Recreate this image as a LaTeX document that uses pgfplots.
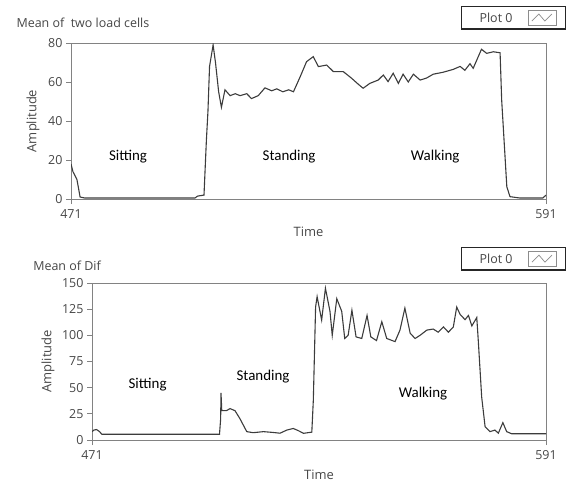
\documentclass[border=0pt]{standalone}
\usepackage{fontspec}
\setmainfont{Open Sans}
\newfontfamily\annfont{Carlito}
\usepackage{pgfplots}
\pgfplotsset{compat=1.18}

\definecolor{frame}{RGB}{130,130,130}
\definecolor{trace}{RGB}{60,60,60}
\definecolor{txt}{RGB}{70,70,70}

\pgfplotstableread{
t v
471 18
471.5 14
472.5 10
473.3 1
474.5 0.5
490 0.5
502.3 0.5
503 1.5
504.6 2
505.2 30
505.6 45
506 68
506.9 79
507.5 70
508.3 55
509 47
509.9 56
511.2 53
512.5 54
513.7 53
515.4 54
516.6 51.5
518.3 53
520 57
521.7 55.5
523 56.5
524.5 55
526 56
527.2 55
528.9 62.7
530.5 70.4
532.2 73
533.5 67.9
535.6 68.7
537.3 65.3
539.8 65.3
541.9 61.9
543.5 59
544.8 56.8
546.5 59.3
548.6 61
549.9 63.6
551.1 60.2
552.4 64.5
553.7 59.3
554.9 64
556.2 60
557.5 64
559.2 61
560.8 62
562.5 64
565 65
567.6 66.5
569.3 68
570.5 66
571.8 69.4
572.6 67
574.7 76.8
576 74.7
577.7 75.5
579.4 75
579.8 50.8
581.1 6.3
581.9 1.2
584.4 0.5
590.2 0.5
591 2
}\loadcells

\pgfplotstableread{
t v
471 8
471.5 9.5
472.2 10
473 8
473.6 5.5
504.7 5.5
505 20
505.1 45
505.3 28
506.5 28
507.5 30
508.8 28
510.1 20.4
511.9 8
513.6 7
515 7.5
516.3 8
518.9 7.2
520.7 6.5
522.5 9.5
524.2 11
525.5 9
526.9 6.4
529.1 7.5
529.5 38
530.1 127
530.5 137
531.7 114.6
532.7 145
533.9 123
534.5 100
535.7 135
537 123
537.8 97
538.7 100
539.7 124
540.8 98.5
542.3 97
543.7 119
544.7 98.5
546.2 95
547.6 113
548.9 97
551.1 94
552.4 105
553.7 126
555.1 102
556.4 97
557.7 100
559.5 105
561.2 106
562.5 103
563.9 108
565.2 103
566.5 108
567.4 127
568.3 120
569.6 115
570.5 119
571.4 109
572.7 117
573.1 95
574 41
574.9 12.7
576.2 8
577.5 9.5
578.4 6.5
579.6 16.6
580.6 8
581.9 6
591 6
}\meandif

\pgfplotsset{
  every axis title shift=0pt,
  lvgraph/.style={
    scale only axis,
    xmin=471, xmax=591, xtick={471,591},
    tick pos=left, tick align=outside,
    major tick length=5bp,
    axis line style={frame, line width=1bp},
    tick style={frame, line width=0.8bp},
    ticklabel style={font=\fontsize{12.5}{14}\selectfont, text=txt},
    xticklabel style={yshift=-2bp},
    /pgf/number format/assume math mode=true,
    label style={font=\fontsize{13}{15}\selectfont, text=txt},
    title style={font=\fontsize{12.5}{15}\selectfont, text=txt, anchor=west},
    legend plot pos=right,
    legend style={anchor=north east, draw=black!85, line width=1.3bp,
      inner xsep=9bp, inner ysep=3.5bp,
      font=\fontsize{12.5}{14}\selectfont, text=txt},
    legend image code/.code={
      \draw[black!45, line width=0.8bp, fill=white] (0bp,-7bp) rectangle (28bp,7.5bp);
      \draw[black!45, line width=0.7bp] (4bp,-3bp) -- (11bp,4bp) -- (17bp,-3bp) -- (24bp,4bp);
    },
  },
}

\begin{document}
\begin{tikzpicture}
\useasboundingbox (0,0) rectangle (567bp,-483bp);

\begin{axis}[lvgraph,
  at={(71bp,-199bp)}, anchor=south west,
  width=475bp, height=156bp,
  ymin=0, ymax=80, ytick={0,20,...,80},
  xlabel={Time}, ylabel={Amplitude},
  xlabel style={at={(0.5,-0.212)}, anchor=center},
  ylabel style={at={(-0.08,0.5)}, anchor=center},
  title={Mean of~ two load cells},
  title style={at={(-0.122,1.128)}},
  legend style={at={(1.042,1.237)}},
]
\addplot[trace, line width=1.1bp] table[x=t, y=v] {\loadcells};
\addlegendentry{\hspace*{7bp}Plot 0\hspace*{13bp}}
\node[font=\annfont\fontsize{15}{18}\selectfont] at (axis cs:485.4,21.5) {Sitting};
\node[font=\annfont\fontsize{15}{18}\selectfont] at (axis cs:526.1,21.5) {Standing};
\node[font=\annfont\fontsize{15}{18}\selectfont] at (axis cs:563,21.5) {Walking};
\end{axis}

\begin{axis}[lvgraph,
  at={(92bp,-440bp)}, anchor=south west,
  width=454bp, height=157bp,
  ymin=0, ymax=150, ytick={0,25,...,150},
  xlabel={Time}, ylabel={Amplitude},
  xlabel style={at={(0.5,-0.223)}, anchor=center},
  ylabel style={at={(-0.097,0.5)}, anchor=center},
  title={Mean of Dif},
  title style={at={(-0.137,1.108)}},
  legend style={at={(1.044,1.229)}},
]
\addplot[trace, line width=1.1bp] table[x=t, y=v] {\meandif};
\addlegendentry{\hspace*{7bp}Plot 0\hspace*{13bp}}
\node[font=\annfont\fontsize{15}{18}\selectfont] at (axis cs:485.7,52.5) {Sitting};
\node[font=\annfont\fontsize{15}{18}\selectfont] at (axis cs:516.2,60.5) {Standing};
\node[font=\annfont\fontsize{15}{18}\selectfont] at (axis cs:558.5,44) {Walking};
\end{axis}
\end{tikzpicture}
\end{document}
